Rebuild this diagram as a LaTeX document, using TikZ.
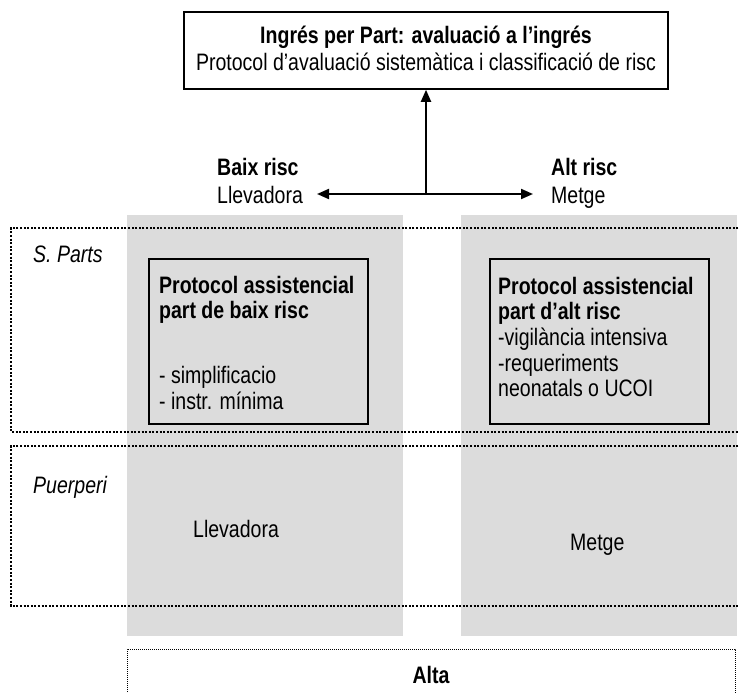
\documentclass[tikz,border=0pt]{standalone}
\usepackage{fontspec}
\setmainfont{Liberation Sans}[FakeStretch=0.82]
\usetikzlibrary{arrows.meta}
\definecolor{panelgray}{HTML}{DCDCDC}
\begin{document}
\begin{tikzpicture}[x=1pt,y=-1pt,
  txt/.style={inner sep=0pt, font=\fontsize{23.8}{25.7}\selectfont},
  txtb/.style={inner sep=0pt, font=\fontsize{23.8}{25.7}\selectfont\bfseries},
  txti/.style={inner sep=0pt, font=\fontsize{23.8}{25.7}\selectfont\itshape},
  boxline/.style={draw, line width=1.6pt, inner sep=0pt},
  region/.style={line width=2pt, dash pattern=on 2pt off 1.6pt},
  altadot/.style={line width=1pt, dash pattern=on 1pt off 1pt},
  arr/.style={line width=2pt, -{Triangle[length=12pt,width=10pt]}}
]
\useasboundingbox (0,0) rectangle (739,693);
\begin{scope}
  \clip (0,0) rectangle (739,693);
  \fill[panelgray] (127,215) rectangle (403,636);
  \fill[panelgray] (461,215) rectangle (737,636);
  \draw[region] (760,228) -- (11,228) -- (11,432) -- (760,432);
  \draw[region] (760,446) -- (11,446) -- (11,606) -- (760,606);
  \draw[altadot] (127,720) -- (127,649) -- (735,649) -- (735,720);
\end{scope}

% top box
\node[boxline, minimum width=484pt, minimum height=77pt] (ingres) at (426,50.5) {};
\node[inner sep=0pt, align=center, font=\fontsize{23.8}{27}\selectfont] (ingrestxt) at (426,48)
  {\textbf{Ingrés per Part: avaluació a l’ingrés}\\Protocol d’avaluació sistemàtica i classificació de risc};

% arrows
\coordinate (split) at (426,194);
\coordinate (lefttip) at (317,194);
\coordinate (righttip) at (533,194);
\draw[arr] (split) -- (ingres.south);
\draw[arr] (split) -- (lefttip);
\draw[arr] (split) -- (righttip);

% risk labels
\node[txtb, anchor=base west] (baix) at (217,175) {Baix risc};
\node[txt, anchor=base west] (llev) at (217,203) {Llevadora};
\node[txtb, anchor=base west] (alt) at (551,175) {Alt risc};
\node[txt, anchor=base west] (metge) at (551,203) {Metge};

% region labels
\node[txti, anchor=base west] (sparts) at (33,262) {S. Parts};
\node[txti, anchor=base west] (puerperi) at (33,493) {Puerperi};

% inner boxes
\node[boxline, minimum width=219pt, minimum height=165pt, anchor=north west] (lowbox) at (148,258) {};
\node[boxline, minimum width=219pt, minimum height=165pt, anchor=north west] (highbox) at (489,258) {};
\node[txt, anchor=north west, align=left] (lowtxt) at (159,275.6)
  {\textbf{Protocol assistencial}\\\textbf{part de baix risc}\\[39pt]- simplificacio\\- instr. mínima};
\node[txt, anchor=north west, align=left] (hightxt) at (498,276.6)
  {\textbf{Protocol assistencial}\\\textbf{part d’alt risc}\\-vigilància intensiva\\-requeriments\\neonatals o UCOI};

% puerperi texts
\node[txt, anchor=base west] (llevp) at (193,537) {Llevadora};
\node[txt, anchor=base west] (metgep) at (570,550) {Metge};

% alta
\node[txtb, anchor=base] (alta) at (431,683) {Alta};
\end{tikzpicture}
\end{document}
